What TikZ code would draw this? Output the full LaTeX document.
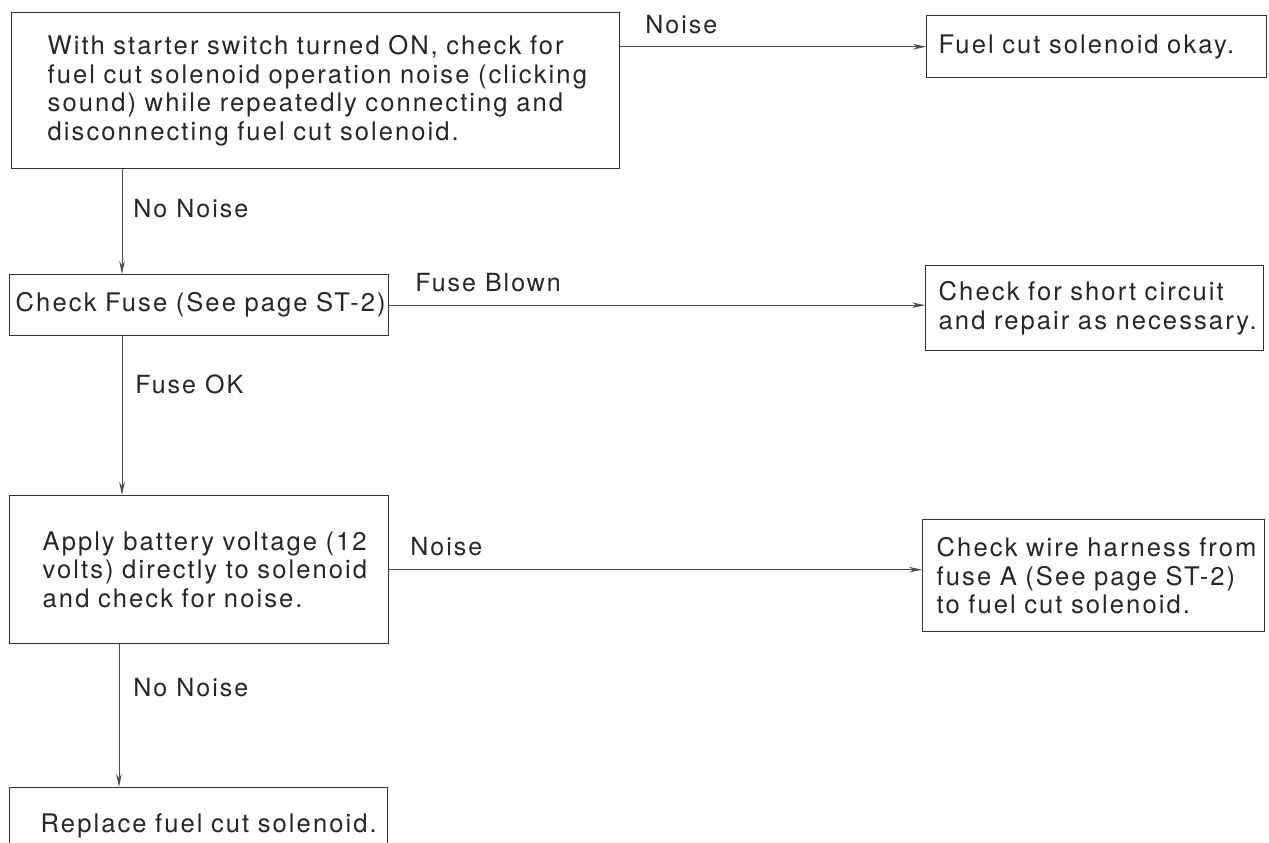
\documentclass[tikz,border=0pt]{standalone}
\usepackage{fontspec}
\setmainfont{TeX Gyre Heros}[LetterSpace=8]
\usetikzlibrary{arrows.meta}

\tikzset{
  box/.style n args={3}{draw=black!80,line width=0.7pt,anchor=north west,
    align=left,inner ysep=0pt,inner xsep=#3*0.5pt,
    text width=(#1-2*#3)*0.5pt,minimum height=#2*0.5pt,
    execute at begin node={\rightskip=-60pt plus 1fil},
    text=black!85,font=\fontsize{12.8}{14.2}\selectfont},
  link/.style={draw=black!70,line width=0.5pt,->},
  lbl/.style={anchor=base west,inner sep=0pt,text=black!85,
    font=\fontsize{12.5}{14.2}\selectfont}
}

\begin{document}
\begin{tikzpicture}[x=0.5pt,y=-0.5pt,>={Stealth[length=6.5pt,width=2.8pt]}]
  \useasboundingbox (0,0) rectangle (1269,842);
  \clip (0,0) rectangle (1269,842);

  % ================= left column: checks =================
  \node[box={608}{156}{36}] (start) at (11,12)
    {With starter switch turned ON, check for\\
     fuel cut solenoid operation noise (clicking\\
     sound) while repeatedly connecting and\\
     disconnecting fuel cut solenoid.};
  \node[box={379}{61}{6}] (fuse) at (9,274)
    {Check Fuse (See page ST-2)};
  \node[box={379}{148}{33}] (apply) at (9,495)
    {Apply battery voltage (12\\volts) directly to solenoid\\and check for noise.};
  \node[box={378}{76}{31}] (repl) at (9,787)
    {Replace fuel cut solenoid.};

  % ================= right column: results =================
  \node[box={340}{62}{12}] (okay) at (926,15)
    {Fuel cut solenoid okay.};
  \node[box={338}{85}{13}] (short) at (925,265)
    {Check for short circuit\\and repair as necessary.};
  \node[box={342}{112}{14}] (wire) at (922,519)
    {Check wire harness from\\fuse A (See page ST-2)\\to fuel cut solenoid.};

  % stem of the vertical links
  \coordinate (stem) at (122,0);
  \coordinate (stemb) at (119,0);

  % ================= links =================
  \draw[link] (start.east |- okay.west) -- (okay.west);
  \node[lbl] (n1) at (645,33) {Noise};

  \draw[link] (start.south -| stem) -- (fuse.north -| stem);
  \node[lbl] (n2) at (133,217) {No Noise};

  \draw[link] (fuse.east) -- (fuse.east -| short.west);
  \node[lbl] (n3) at (415,291) {Fuse Blown};

  \draw[link] (fuse.south -| stem) -- (apply.north -| stem);
  \node[lbl] (n4) at (135,393) {Fuse OK};

  \draw[link] (apply.east) -- (apply.east -| wire.west);
  \node[lbl] (n5) at (410,555) {Noise};

  \draw[link] (apply.south -| stemb) -- (repl.north -| stemb);
  \node[lbl] (n6) at (133,696) {No Noise};
\end{tikzpicture}
\end{document}
